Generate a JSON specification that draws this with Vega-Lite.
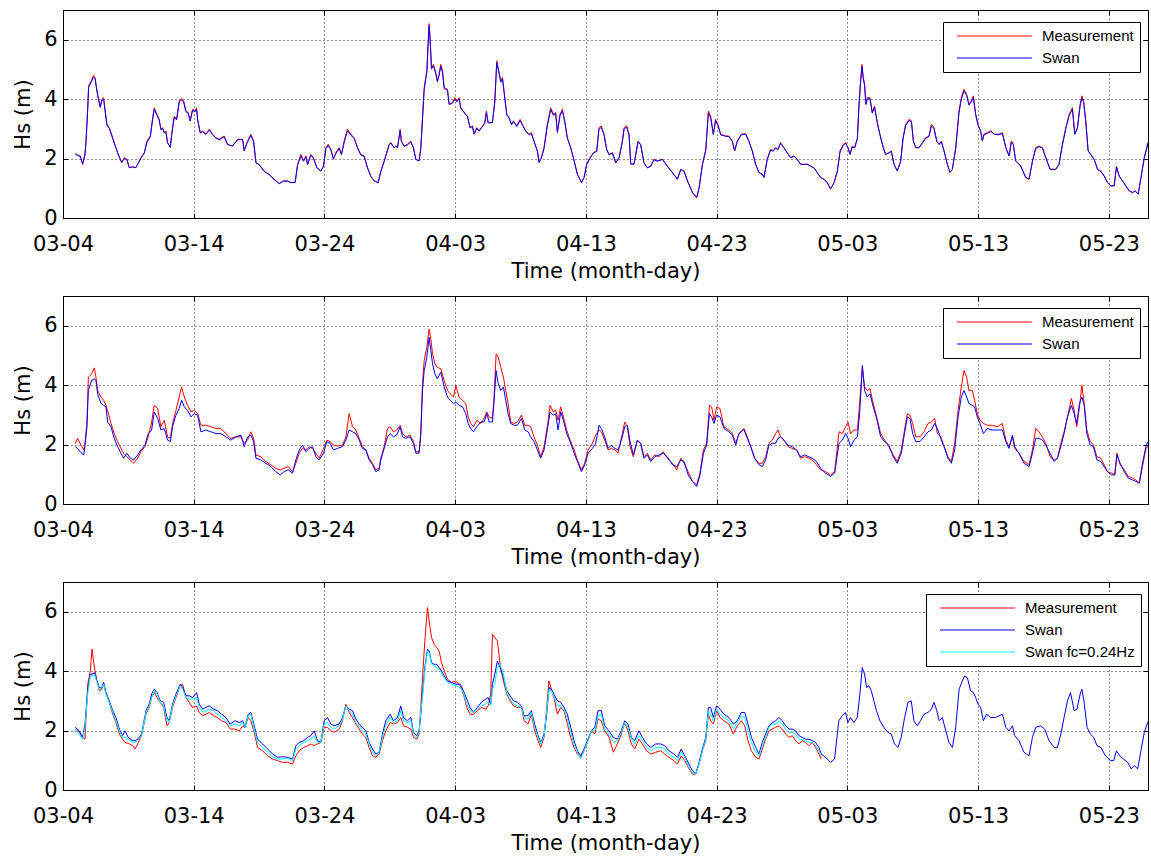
{
"$schema":"https://vega.github.io/schema/vega-lite/v6.json",
"background":"white",
"padding":{"left":12,"top":9,"right":0,"bottom":0},
"spacing":13,
"resolve":{"scale":{"color":"independent"},"legend":{"color":"independent"}},
"datasets":{
"p1":[{"d":0.94,"m":2.17,"s":2.15},{"d":1.12,"m":2.12,"s":2.10},{"d":1.33,"m":2.09,"s":2.07},{"d":1.50,"m":1.80,"s":1.82},{"d":1.68,"m":2.14,"s":2.12},{"d":1.76,"m":2.60,"s":2.55},{"d":1.89,"m":3.70,"s":3.65},{"d":1.96,"m":4.45,"s":4.40},{"d":2.14,"m":4.60,"s":4.56},{"d":2.34,"m":4.80,"s":4.74},{"d":2.45,"m":4.72,"s":4.68},{"d":2.65,"m":4.16,"s":4.12},{"d":2.85,"m":3.74,"s":3.72},{"d":2.98,"m":4.00,"s":3.96},{"d":3.11,"m":4.05,"s":4.00},{"d":3.21,"m":3.66,"s":3.64},{"d":3.36,"m":3.15,"s":3.12},{"d":3.54,"m":3.04,"s":3.02},{"d":3.80,"m":2.70,"s":2.68},{"d":4.05,"m":2.37,"s":2.35},{"d":4.23,"m":2.14,"s":2.13},{"d":4.49,"m":1.86,"s":1.87},{"d":4.69,"m":2.03,"s":2.00},{"d":4.89,"m":1.98,"s":1.96},{"d":5.07,"m":1.69,"s":1.70},{"d":5.33,"m":1.72,"s":1.72},{"d":5.58,"m":1.69,"s":1.70},{"d":5.76,"m":1.86,"s":1.84},{"d":5.96,"m":2.03,"s":2.01},{"d":6.22,"m":2.20,"s":2.18},{"d":6.42,"m":2.59,"s":2.55},{"d":6.68,"m":2.76,"s":2.73},{"d":6.86,"m":3.38,"s":3.33},{"d":6.98,"m":3.71,"s":3.66},{"d":7.19,"m":3.49,"s":3.45},{"d":7.36,"m":3.32,"s":3.30},{"d":7.49,"m":2.99,"s":2.97},{"d":7.62,"m":3.04,"s":3.01},{"d":7.75,"m":2.87,"s":2.86},{"d":7.87,"m":2.93,"s":2.90},{"d":8.00,"m":2.54,"s":2.53},{"d":8.21,"m":2.37,"s":2.38},{"d":8.31,"m":2.82,"s":2.78},{"d":8.51,"m":3.43,"s":3.39},{"d":8.69,"m":3.32,"s":3.30},{"d":8.89,"m":3.94,"s":3.89},{"d":9.07,"m":4.03,"s":3.98},{"d":9.23,"m":3.94,"s":3.90},{"d":9.40,"m":3.60,"s":3.58},{"d":9.58,"m":3.55,"s":3.52},{"d":9.73,"m":3.27,"s":3.26},{"d":9.91,"m":3.66,"s":3.62},{"d":10.09,"m":3.60,"s":3.57},{"d":10.22,"m":3.71,"s":3.66},{"d":10.30,"m":3.32,"s":3.30},{"d":10.50,"m":2.87,"s":2.86},{"d":10.68,"m":2.93,"s":2.90},{"d":10.93,"m":2.82,"s":2.81},{"d":11.19,"m":2.99,"s":2.96},{"d":11.44,"m":2.82,"s":2.80},{"d":11.70,"m":2.70,"s":2.69},{"d":11.95,"m":2.65,"s":2.63},{"d":12.33,"m":2.76,"s":2.73},{"d":12.59,"m":2.48,"s":2.47},{"d":12.97,"m":2.42,"s":2.42},{"d":13.35,"m":2.65,"s":2.63},{"d":13.74,"m":2.65,"s":2.64},{"d":13.86,"m":2.26,"s":2.27},{"d":14.07,"m":2.54,"s":2.51},{"d":14.37,"m":2.82,"s":2.78},{"d":14.58,"m":2.59,"s":2.57},{"d":14.76,"m":1.86,"s":1.86},{"d":15.01,"m":1.80,"s":1.79},{"d":15.39,"m":1.58,"s":1.57},{"d":15.77,"m":1.47,"s":1.46},{"d":16.16,"m":1.30,"s":1.29},{"d":16.54,"m":1.16,"s":1.16},{"d":16.87,"m":1.25,"s":1.24},{"d":17.18,"m":1.25,"s":1.24},{"d":17.43,"m":1.19,"s":1.19},{"d":17.76,"m":1.19,"s":1.20},{"d":17.94,"m":1.80,"s":1.77},{"d":18.20,"m":2.14,"s":2.10},{"d":18.40,"m":1.92,"s":1.91},{"d":18.58,"m":2.09,"s":2.06},{"d":18.71,"m":1.80,"s":1.80},{"d":18.96,"m":2.14,"s":2.11},{"d":19.16,"m":2.03,"s":2.01},{"d":19.42,"m":1.69,"s":1.69},{"d":19.72,"m":1.58,"s":1.58},{"d":19.93,"m":1.75,"s":1.73},{"d":20.11,"m":2.37,"s":2.33},{"d":20.29,"m":2.48,"s":2.44},{"d":20.49,"m":2.31,"s":2.29},{"d":20.69,"m":1.98,"s":1.98},{"d":20.87,"m":2.20,"s":2.17},{"d":21.13,"m":2.37,"s":2.34},{"d":21.30,"m":2.14,"s":2.13},{"d":21.51,"m":2.59,"s":2.55},{"d":21.76,"m":2.99,"s":2.94},{"d":22.02,"m":2.82,"s":2.79},{"d":22.27,"m":2.70,"s":2.67},{"d":22.53,"m":2.37,"s":2.36},{"d":22.78,"m":2.14,"s":2.12},{"d":23.04,"m":2.09,"s":2.07},{"d":23.29,"m":1.69,"s":1.69},{"d":23.55,"m":1.41,"s":1.40},{"d":23.80,"m":1.25,"s":1.25},{"d":24.11,"m":1.19,"s":1.19},{"d":24.31,"m":1.58,"s":1.56},{"d":24.57,"m":1.92,"s":1.90},{"d":24.95,"m":2.48,"s":2.46},{"d":25.08,"m":2.54,"s":2.52},{"d":25.33,"m":2.37,"s":2.36},{"d":25.46,"m":2.42,"s":2.41},{"d":25.59,"m":2.37,"s":2.36},{"d":25.79,"m":2.99,"s":2.93},{"d":25.89,"m":2.59,"s":2.57},{"d":26.09,"m":2.42,"s":2.41},{"d":26.35,"m":2.48,"s":2.46},{"d":26.60,"m":2.59,"s":2.56},{"d":26.81,"m":2.37,"s":2.36},{"d":26.99,"m":1.98,"s":1.97},{"d":27.24,"m":1.92,"s":1.92},{"d":27.37,"m":2.37,"s":2.33},{"d":27.50,"m":3.38,"s":3.32},{"d":27.63,"m":4.39,"s":4.32},{"d":27.83,"m":4.95,"s":4.90},{"d":27.94,"m":5.96,"s":5.90},{"d":28.01,"m":6.54,"s":6.48},{"d":28.08,"m":6.07,"s":6.02},{"d":28.19,"m":5.06,"s":5.02},{"d":28.34,"m":5.17,"s":5.12},{"d":28.52,"m":4.89,"s":4.85},{"d":28.64,"m":4.61,"s":4.58},{"d":28.77,"m":4.84,"s":4.80},{"d":28.90,"m":5.17,"s":5.11},{"d":29.03,"m":4.95,"s":4.91},{"d":29.16,"m":4.39,"s":4.36},{"d":29.41,"m":4.33,"s":4.30},{"d":29.54,"m":3.83,"s":3.82},{"d":29.79,"m":3.88,"s":3.86},{"d":29.97,"m":4.05,"s":4.00},{"d":30.12,"m":3.94,"s":3.91},{"d":30.30,"m":4.05,"s":4.01},{"d":30.43,"m":3.71,"s":3.69},{"d":30.63,"m":3.60,"s":3.58},{"d":30.81,"m":3.49,"s":3.47},{"d":30.94,"m":3.43,"s":3.41},{"d":31.14,"m":3.04,"s":3.03},{"d":31.32,"m":3.10,"s":3.08},{"d":31.45,"m":2.82,"s":2.82},{"d":31.65,"m":3.04,"s":3.02},{"d":31.83,"m":2.93,"s":2.92},{"d":32.09,"m":3.10,"s":3.08},{"d":32.26,"m":3.21,"s":3.18},{"d":32.39,"m":3.60,"s":3.55},{"d":32.52,"m":3.21,"s":3.20},{"d":32.85,"m":3.21,"s":3.21},{"d":33.03,"m":3.94,"s":3.88},{"d":33.18,"m":5.29,"s":5.22},{"d":33.29,"m":5.06,"s":5.01},{"d":33.49,"m":4.61,"s":4.57},{"d":33.62,"m":4.73,"s":4.68},{"d":33.80,"m":4.05,"s":4.02},{"d":33.95,"m":3.49,"s":3.47},{"d":34.13,"m":3.38,"s":3.36},{"d":34.31,"m":3.15,"s":3.14},{"d":34.46,"m":3.27,"s":3.25},{"d":34.71,"m":3.10,"s":3.08},{"d":34.97,"m":3.32,"s":3.28},{"d":35.14,"m":3.15,"s":3.13},{"d":35.40,"m":2.93,"s":2.92},{"d":35.65,"m":2.82,"s":2.80},{"d":35.83,"m":2.87,"s":2.85},{"d":36.03,"m":2.59,"s":2.58},{"d":36.29,"m":2.26,"s":2.25},{"d":36.42,"m":1.86,"s":1.87},{"d":36.59,"m":2.03,"s":2.01},{"d":36.80,"m":2.37,"s":2.34},{"d":37.05,"m":3.15,"s":3.10},{"d":37.31,"m":3.71,"s":3.65},{"d":37.51,"m":3.49,"s":3.46},{"d":37.69,"m":3.55,"s":3.51},{"d":37.82,"m":2.87,"s":2.88},{"d":38.02,"m":3.49,"s":3.44},{"d":38.20,"m":3.66,"s":3.61},{"d":38.38,"m":3.27,"s":3.25},{"d":38.58,"m":2.70,"s":2.69},{"d":38.84,"m":2.37,"s":2.36},{"d":39.10,"m":1.92,"s":1.92},{"d":39.35,"m":1.47,"s":1.47},{"d":39.66,"m":1.19,"s":1.20},{"d":39.86,"m":1.36,"s":1.36},{"d":40.06,"m":1.81,"s":1.80},{"d":40.32,"m":2.03,"s":2.01},{"d":40.57,"m":2.20,"s":2.18},{"d":40.83,"m":2.26,"s":2.24},{"d":41.00,"m":3.04,"s":2.99},{"d":41.18,"m":3.10,"s":3.05},{"d":41.39,"m":2.82,"s":2.80},{"d":41.59,"m":2.31,"s":2.30},{"d":41.77,"m":2.14,"s":2.13},{"d":42.03,"m":2.20,"s":2.19},{"d":42.28,"m":1.86,"s":1.86},{"d":42.54,"m":2.03,"s":2.02},{"d":42.79,"m":2.59,"s":2.56},{"d":42.92,"m":3.04,"s":2.99},{"d":43.12,"m":3.10,"s":3.06},{"d":43.30,"m":2.82,"s":2.80},{"d":43.43,"m":1.81,"s":1.82},{"d":43.68,"m":1.81,"s":1.81},{"d":43.99,"m":2.59,"s":2.55},{"d":44.19,"m":2.48,"s":2.46},{"d":44.44,"m":1.86,"s":1.86},{"d":44.70,"m":1.69,"s":1.69},{"d":44.96,"m":1.75,"s":1.74},{"d":45.21,"m":1.98,"s":1.96},{"d":45.47,"m":1.92,"s":1.91},{"d":45.85,"m":1.98,"s":1.97},{"d":46.23,"m":1.75,"s":1.74},{"d":46.62,"m":1.53,"s":1.53},{"d":47.00,"m":1.30,"s":1.31},{"d":47.26,"m":1.64,"s":1.63},{"d":47.51,"m":1.58,"s":1.57},{"d":47.77,"m":1.25,"s":1.25},{"d":48.15,"m":0.85,"s":0.86},{"d":48.48,"m":0.68,"s":0.70},{"d":48.66,"m":1.02,"s":1.01},{"d":48.91,"m":1.81,"s":1.78},{"d":49.17,"m":2.31,"s":2.27},{"d":49.37,"m":3.60,"s":3.53},{"d":49.54,"m":3.43,"s":3.39},{"d":49.75,"m":2.82,"s":2.81},{"d":49.92,"m":3.32,"s":3.27},{"d":50.10,"m":3.15,"s":3.12},{"d":50.31,"m":2.82,"s":2.80},{"d":50.69,"m":2.76,"s":2.75},{"d":50.94,"m":2.76,"s":2.74},{"d":51.20,"m":2.59,"s":2.58},{"d":51.38,"m":2.26,"s":2.26},{"d":51.58,"m":2.59,"s":2.57},{"d":51.89,"m":2.82,"s":2.80},{"d":52.22,"m":2.84,"s":2.82},{"d":52.47,"m":2.59,"s":2.58},{"d":52.73,"m":2.26,"s":2.25},{"d":52.98,"m":1.81,"s":1.81},{"d":53.24,"m":1.53,"s":1.53},{"d":53.49,"m":1.47,"s":1.47},{"d":53.62,"m":1.36,"s":1.37},{"d":53.87,"m":1.98,"s":1.96},{"d":54.13,"m":2.31,"s":2.29},{"d":54.33,"m":2.26,"s":2.25},{"d":54.51,"m":2.37,"s":2.35},{"d":54.69,"m":2.31,"s":2.30},{"d":54.89,"m":2.54,"s":2.51},{"d":55.15,"m":2.37,"s":2.36},{"d":55.40,"m":2.20,"s":2.19},{"d":55.66,"m":2.03,"s":2.03},{"d":55.91,"m":2.09,"s":2.08},{"d":56.17,"m":1.98,"s":1.97},{"d":56.42,"m":1.81,"s":1.81},{"d":56.68,"m":1.81,"s":1.80},{"d":56.93,"m":1.81,"s":1.81},{"d":57.19,"m":1.75,"s":1.74},{"d":57.44,"m":1.69,"s":1.69},{"d":57.70,"m":1.53,"s":1.53},{"d":57.96,"m":1.36,"s":1.36},{"d":58.21,"m":1.30,"s":1.30},{"d":58.47,"m":1.19,"s":1.19},{"d":58.72,"m":0.97,"s":0.98},{"d":58.98,"m":1.19,"s":1.18},{"d":59.23,"m":1.58,"s":1.55},{"d":59.44,"m":2.26,"s":2.22},{"d":59.69,"m":2.48,"s":2.45},{"d":59.87,"m":2.54,"s":2.51},{"d":60.05,"m":2.37,"s":2.36},{"d":60.20,"m":2.14,"s":2.14},{"d":60.38,"m":2.42,"s":2.39},{"d":60.56,"m":2.37,"s":2.36},{"d":60.77,"m":2.70,"s":2.67},{"d":60.89,"m":3.83,"s":3.77},{"d":61.01,"m":4.61,"s":4.54},{"d":61.12,"m":5.17,"s":5.10},{"d":61.22,"m":4.73,"s":4.69},{"d":61.32,"m":4.50,"s":4.46},{"d":61.42,"m":3.83,"s":3.82},{"d":61.52,"m":4.05,"s":4.01},{"d":61.73,"m":4.05,"s":4.01},{"d":61.91,"m":3.55,"s":3.53},{"d":62.08,"m":3.77,"s":3.73},{"d":62.29,"m":3.21,"s":3.20},{"d":62.49,"m":2.82,"s":2.81},{"d":62.75,"m":2.37,"s":2.36},{"d":62.93,"m":2.14,"s":2.14},{"d":63.18,"m":2.20,"s":2.19},{"d":63.36,"m":2.26,"s":2.24},{"d":63.57,"m":1.81,"s":1.81},{"d":63.82,"m":1.58,"s":1.58},{"d":64.08,"m":1.92,"s":1.90},{"d":64.26,"m":2.70,"s":2.66},{"d":64.46,"m":3.15,"s":3.11},{"d":64.72,"m":3.32,"s":3.28},{"d":64.90,"m":3.27,"s":3.25},{"d":65.05,"m":2.59,"s":2.59},{"d":65.23,"m":2.37,"s":2.37},{"d":65.48,"m":2.37,"s":2.36},{"d":65.74,"m":2.54,"s":2.52},{"d":65.99,"m":2.70,"s":2.68},{"d":66.25,"m":2.76,"s":2.74},{"d":66.43,"m":3.15,"s":3.10},{"d":66.63,"m":3.04,"s":3.01},{"d":66.84,"m":2.59,"s":2.58},{"d":67.02,"m":2.48,"s":2.47},{"d":67.19,"m":2.59,"s":2.57},{"d":67.40,"m":2.26,"s":2.25},{"d":67.65,"m":1.81,"s":1.81},{"d":67.85,"m":1.53,"s":1.54},{"d":68.03,"m":1.64,"s":1.63},{"d":68.29,"m":2.37,"s":2.33},{"d":68.54,"m":3.60,"s":3.54},{"d":68.72,"m":4.05,"s":3.99},{"d":68.92,"m":4.33,"s":4.28},{"d":69.13,"m":4.16,"s":4.12},{"d":69.30,"m":3.83,"s":3.80},{"d":69.48,"m":3.94,"s":3.90},{"d":69.64,"m":4.11,"s":4.05},{"d":69.82,"m":3.49,"s":3.47},{"d":69.99,"m":3.15,"s":3.14},{"d":70.20,"m":2.93,"s":2.92},{"d":70.33,"m":2.59,"s":2.60},{"d":70.45,"m":2.82,"s":2.80},{"d":70.71,"m":2.87,"s":2.85},{"d":70.97,"m":2.93,"s":2.91},{"d":71.27,"m":2.82,"s":2.81},{"d":71.61,"m":2.82,"s":2.80},{"d":71.86,"m":2.87,"s":2.85},{"d":72.12,"m":2.37,"s":2.37},{"d":72.37,"m":2.09,"s":2.09},{"d":72.55,"m":2.59,"s":2.56},{"d":72.70,"m":2.48,"s":2.47},{"d":72.88,"m":1.92,"s":1.92},{"d":73.26,"m":1.75,"s":1.75},{"d":73.64,"m":1.36,"s":1.37},{"d":73.90,"m":1.30,"s":1.31},{"d":74.16,"m":1.92,"s":1.90},{"d":74.41,"m":2.37,"s":2.34},{"d":74.66,"m":2.42,"s":2.40},{"d":74.92,"m":2.37,"s":2.36},{"d":75.18,"m":2.03,"s":2.03},{"d":75.51,"m":1.64,"s":1.64},{"d":75.94,"m":1.64,"s":1.63},{"d":76.19,"m":1.81,"s":1.80},{"d":76.45,"m":2.48,"s":2.45},{"d":76.71,"m":3.04,"s":3.00},{"d":76.97,"m":3.49,"s":3.45},{"d":77.22,"m":3.71,"s":3.66},{"d":77.40,"m":2.82,"s":2.82},{"d":77.60,"m":3.04,"s":3.01},{"d":77.81,"m":3.83,"s":3.78},{"d":77.94,"m":4.11,"s":4.04},{"d":78.07,"m":3.94,"s":3.90},{"d":78.24,"m":3.27,"s":3.25},{"d":78.42,"m":2.26,"s":2.26},{"d":78.63,"m":2.14,"s":2.13},{"d":78.88,"m":1.98,"s":1.97},{"d":79.14,"m":1.64,"s":1.64},{"d":79.39,"m":1.58,"s":1.57},{"d":79.65,"m":1.41,"s":1.41},{"d":79.90,"m":1.19,"s":1.19},{"d":80.16,"m":1.08,"s":1.08},{"d":80.41,"m":1.08,"s":1.09},{"d":80.59,"m":1.75,"s":1.71},{"d":80.80,"m":1.41,"s":1.40},{"d":81.05,"m":1.25,"s":1.25},{"d":81.31,"m":1.08,"s":1.08},{"d":81.56,"m":0.91,"s":0.92},{"d":81.82,"m":0.85,"s":0.86},{"d":82.02,"m":0.91,"s":0.91},{"d":82.25,"m":0.80,"s":0.81},{"d":82.46,"m":1.36,"s":1.34},{"d":82.71,"m":2.03,"s":2.00},{"d":83.00,"m":2.55,"s":2.52}],
"p2":[{"d":0.94,"m":2.04,"s":1.93},{"d":1.12,"m":2.21,"s":1.87},{"d":1.38,"m":1.98,"s":1.73},{"d":1.58,"m":1.82,"s":1.65},{"d":1.68,"m":2.04,"s":1.93},{"d":1.83,"m":2.71,"s":2.60},{"d":1.94,"m":4.27,"s":3.82},{"d":2.19,"m":4.38,"s":4.16},{"d":2.40,"m":4.58,"s":4.21},{"d":2.52,"m":4.27,"s":4.16},{"d":2.65,"m":3.82,"s":3.71},{"d":2.91,"m":3.60,"s":3.38},{"d":3.11,"m":3.49,"s":3.32},{"d":3.29,"m":3.32,"s":3.27},{"d":3.41,"m":3.15,"s":2.76},{"d":3.67,"m":2.71,"s":2.60},{"d":3.92,"m":2.37,"s":2.21},{"d":4.18,"m":2.10,"s":1.93},{"d":4.43,"m":1.87,"s":1.71},{"d":4.64,"m":1.71,"s":1.54},{"d":4.89,"m":1.59,"s":1.71},{"d":5.15,"m":1.48,"s":1.54},{"d":5.40,"m":1.37,"s":1.48},{"d":5.71,"m":1.54,"s":1.65},{"d":5.96,"m":1.76,"s":1.82},{"d":6.27,"m":1.93,"s":1.98},{"d":6.52,"m":2.26,"s":2.37},{"d":6.78,"m":2.76,"s":2.49},{"d":6.98,"m":3.32,"s":3.10},{"d":7.24,"m":3.21,"s":2.88},{"d":7.49,"m":2.60,"s":2.49},{"d":7.75,"m":2.82,"s":2.54},{"d":8.00,"m":2.26,"s":2.15},{"d":8.21,"m":2.21,"s":2.10},{"d":8.38,"m":2.71,"s":2.60},{"d":8.64,"m":3.15,"s":2.99},{"d":8.89,"m":3.60,"s":3.21},{"d":9.07,"m":3.94,"s":3.49},{"d":9.28,"m":3.60,"s":3.27},{"d":9.53,"m":3.32,"s":3.15},{"d":9.79,"m":3.10,"s":2.93},{"d":10.04,"m":3.15,"s":3.04},{"d":10.30,"m":3.04,"s":2.99},{"d":10.55,"m":2.65,"s":2.43},{"d":10.93,"m":2.65,"s":2.49},{"d":11.31,"m":2.60,"s":2.43},{"d":11.70,"m":2.54,"s":2.37},{"d":12.08,"m":2.54,"s":2.37},{"d":12.46,"m":2.37,"s":2.26},{"d":12.84,"m":2.21,"s":2.15},{"d":13.23,"m":2.26,"s":2.26},{"d":13.61,"m":2.26,"s":2.32},{"d":13.86,"m":2.04,"s":1.93},{"d":14.12,"m":2.15,"s":2.26},{"d":14.37,"m":2.43,"s":2.32},{"d":14.58,"m":2.21,"s":2.10},{"d":14.76,"m":1.65,"s":1.54},{"d":15.14,"m":1.59,"s":1.48},{"d":15.52,"m":1.43,"s":1.37},{"d":15.90,"m":1.32,"s":1.26},{"d":16.28,"m":1.20,"s":1.09},{"d":16.62,"m":1.15,"s":0.98},{"d":16.92,"m":1.20,"s":1.09},{"d":17.23,"m":1.26,"s":1.15},{"d":17.56,"m":1.09,"s":1.04},{"d":17.81,"m":1.37,"s":1.48},{"d":18.07,"m":1.71,"s":1.82},{"d":18.32,"m":1.87,"s":1.98},{"d":18.58,"m":1.82,"s":1.76},{"d":18.83,"m":1.93,"s":1.87},{"d":19.09,"m":1.87,"s":1.93},{"d":19.34,"m":1.71,"s":1.59},{"d":19.60,"m":1.54,"s":1.48},{"d":19.93,"m":1.87,"s":1.71},{"d":20.18,"m":2.15,"s":2.10},{"d":20.44,"m":2.10,"s":2.04},{"d":20.69,"m":1.98,"s":1.82},{"d":21.00,"m":1.95,"s":1.87},{"d":21.38,"m":1.98,"s":1.93},{"d":21.64,"m":2.26,"s":2.15},{"d":21.89,"m":3.04,"s":2.49},{"d":22.15,"m":2.60,"s":2.43},{"d":22.40,"m":2.49,"s":2.37},{"d":22.66,"m":2.21,"s":2.15},{"d":22.91,"m":1.93,"s":1.87},{"d":23.17,"m":1.82,"s":1.82},{"d":23.42,"m":1.54,"s":1.48},{"d":23.68,"m":1.37,"s":1.32},{"d":23.93,"m":1.15,"s":1.09},{"d":24.18,"m":1.20,"s":1.15},{"d":24.31,"m":1.54,"s":1.48},{"d":24.57,"m":1.93,"s":1.87},{"d":24.82,"m":2.54,"s":2.26},{"d":25.02,"m":2.60,"s":2.37},{"d":25.28,"m":2.43,"s":2.26},{"d":25.53,"m":2.49,"s":2.32},{"d":25.79,"m":2.65,"s":2.60},{"d":25.97,"m":2.37,"s":2.26},{"d":26.22,"m":2.26,"s":2.21},{"d":26.55,"m":2.32,"s":2.26},{"d":26.81,"m":2.10,"s":2.04},{"d":26.99,"m":1.76,"s":1.71},{"d":27.24,"m":1.76,"s":1.71},{"d":27.37,"m":2.30,"s":2.40},{"d":27.50,"m":4.05,"s":3.82},{"d":27.63,"m":4.83,"s":4.49},{"d":27.83,"m":5.27,"s":4.94},{"d":28.01,"m":5.89,"s":5.61},{"d":28.14,"m":5.55,"s":5.16},{"d":28.27,"m":5.05,"s":4.72},{"d":28.45,"m":4.72,"s":4.38},{"d":28.64,"m":4.60,"s":4.21},{"d":28.90,"m":4.55,"s":4.44},{"d":29.16,"m":4.16,"s":3.94},{"d":29.41,"m":3.82,"s":3.60},{"d":29.62,"m":3.71,"s":3.49},{"d":29.87,"m":3.60,"s":3.38},{"d":30.05,"m":3.99,"s":3.43},{"d":30.30,"m":3.60,"s":3.32},{"d":30.56,"m":3.49,"s":3.27},{"d":30.81,"m":3.38,"s":3.04},{"d":30.99,"m":2.93,"s":2.71},{"d":31.19,"m":2.71,"s":2.54},{"d":31.40,"m":2.60,"s":2.43},{"d":31.65,"m":2.82,"s":2.60},{"d":31.96,"m":2.71,"s":2.76},{"d":32.21,"m":2.88,"s":2.76},{"d":32.42,"m":3.10,"s":3.04},{"d":32.60,"m":2.93,"s":2.76},{"d":32.85,"m":2.88,"s":2.76},{"d":32.98,"m":3.60,"s":3.49},{"d":33.13,"m":5.05,"s":4.49},{"d":33.29,"m":4.94,"s":4.05},{"d":33.49,"m":4.60,"s":3.82},{"d":33.69,"m":4.27,"s":3.94},{"d":33.87,"m":3.82,"s":3.49},{"d":34.05,"m":3.38,"s":3.04},{"d":34.25,"m":2.76,"s":2.71},{"d":34.51,"m":2.71,"s":2.65},{"d":34.76,"m":2.76,"s":2.65},{"d":35.07,"m":2.99,"s":2.88},{"d":35.32,"m":2.65,"s":2.49},{"d":35.58,"m":2.65,"s":2.43},{"d":35.78,"m":2.60,"s":2.26},{"d":36.03,"m":2.26,"s":2.10},{"d":36.29,"m":1.98,"s":1.82},{"d":36.54,"m":1.59,"s":1.54},{"d":36.80,"m":1.93,"s":1.82},{"d":37.05,"m":2.60,"s":2.49},{"d":37.26,"m":3.32,"s":3.10},{"d":37.51,"m":3.10,"s":2.99},{"d":37.69,"m":3.15,"s":3.04},{"d":37.87,"m":2.82,"s":2.49},{"d":38.07,"m":3.27,"s":3.10},{"d":38.28,"m":2.93,"s":2.82},{"d":38.53,"m":2.49,"s":2.37},{"d":38.79,"m":2.15,"s":2.10},{"d":39.10,"m":1.82,"s":1.71},{"d":39.35,"m":1.48,"s":1.43},{"d":39.66,"m":1.15,"s":1.09},{"d":39.91,"m":1.37,"s":1.32},{"d":40.17,"m":1.82,"s":1.71},{"d":40.50,"m":2.04,"s":1.87},{"d":40.75,"m":2.32,"s":2.04},{"d":41.01,"m":2.49,"s":2.65},{"d":41.18,"m":2.43,"s":2.54},{"d":41.44,"m":2.15,"s":2.26},{"d":41.70,"m":1.82,"s":1.87},{"d":41.95,"m":1.87,"s":1.98},{"d":42.21,"m":1.82,"s":1.87},{"d":42.46,"m":1.71,"s":1.82},{"d":42.79,"m":2.37,"s":2.26},{"d":42.97,"m":2.76,"s":2.60},{"d":43.17,"m":2.60,"s":2.65},{"d":43.38,"m":1.93,"s":2.10},{"d":43.63,"m":1.59,"s":1.65},{"d":43.94,"m":2.15,"s":2.15},{"d":44.19,"m":2.04,"s":2.04},{"d":44.44,"m":1.59,"s":1.54},{"d":44.70,"m":1.71,"s":1.65},{"d":44.96,"m":1.48,"s":1.43},{"d":45.26,"m":1.65,"s":1.59},{"d":45.59,"m":1.59,"s":1.65},{"d":45.92,"m":1.76,"s":1.71},{"d":46.23,"m":1.54,"s":1.59},{"d":46.62,"m":1.37,"s":1.32},{"d":46.95,"m":1.15,"s":1.26},{"d":47.26,"m":1.54,"s":1.48},{"d":47.51,"m":1.37,"s":1.43},{"d":47.82,"m":1.09,"s":0.98},{"d":48.15,"m":0.76,"s":0.76},{"d":48.48,"m":0.65,"s":0.59},{"d":48.73,"m":1.04,"s":0.98},{"d":48.99,"m":1.82,"s":1.71},{"d":49.24,"m":2.04,"s":1.98},{"d":49.45,"m":3.32,"s":3.04},{"d":49.62,"m":3.27,"s":2.93},{"d":49.80,"m":2.82,"s":2.71},{"d":50.00,"m":3.27,"s":2.99},{"d":50.26,"m":3.21,"s":2.93},{"d":50.56,"m":2.60,"s":2.54},{"d":50.94,"m":2.49,"s":2.43},{"d":51.20,"m":2.37,"s":2.32},{"d":51.46,"m":2.04,"s":1.98},{"d":51.71,"m":2.37,"s":2.37},{"d":52.09,"m":2.54,"s":2.51},{"d":52.35,"m":2.26,"s":2.21},{"d":52.61,"m":1.93,"s":1.93},{"d":52.91,"m":1.54,"s":1.54},{"d":53.24,"m":1.37,"s":1.32},{"d":53.49,"m":1.37,"s":1.26},{"d":53.75,"m":1.59,"s":1.48},{"d":54.00,"m":2.04,"s":1.98},{"d":54.26,"m":2.15,"s":2.04},{"d":54.51,"m":2.37,"s":2.04},{"d":54.69,"m":2.49,"s":2.21},{"d":54.89,"m":2.26,"s":2.26},{"d":55.15,"m":2.15,"s":2.15},{"d":55.46,"m":1.93,"s":1.98},{"d":55.78,"m":1.87,"s":1.93},{"d":56.11,"m":1.82,"s":1.82},{"d":56.42,"m":1.54,"s":1.59},{"d":56.73,"m":1.59,"s":1.65},{"d":57.06,"m":1.54,"s":1.59},{"d":57.31,"m":1.48,"s":1.54},{"d":57.64,"m":1.32,"s":1.43},{"d":57.96,"m":1.15,"s":1.20},{"d":58.33,"m":1.09,"s":1.04},{"d":58.72,"m":0.98,"s":0.93},{"d":59.03,"m":1.09,"s":1.04},{"d":59.36,"m":2.43,"s":2.04},{"d":59.62,"m":2.37,"s":2.15},{"d":59.87,"m":2.60,"s":2.37},{"d":60.05,"m":2.76,"s":2.21},{"d":60.25,"m":2.37,"s":1.93},{"d":60.51,"m":2.49,"s":2.15},{"d":60.77,"m":2.49,"s":2.26},{"d":60.94,"m":3.38,"s":3.04},{"d":61.15,"m":4.60,"s":4.66},{"d":61.32,"m":3.94,"s":3.82},{"d":61.52,"m":3.82,"s":3.60},{"d":61.73,"m":3.88,"s":3.71},{"d":61.98,"m":3.38,"s":3.27},{"d":62.24,"m":2.93,"s":2.88},{"d":62.55,"m":2.37,"s":2.26},{"d":62.85,"m":2.15,"s":2.10},{"d":63.18,"m":1.93,"s":1.98},{"d":63.51,"m":1.65,"s":1.59},{"d":63.82,"m":1.43,"s":1.37},{"d":64.13,"m":1.82,"s":1.71},{"d":64.33,"m":2.37,"s":2.26},{"d":64.59,"m":3.04,"s":2.93},{"d":64.79,"m":2.99,"s":2.88},{"d":65.00,"m":2.71,"s":2.37},{"d":65.23,"m":2.26,"s":2.10},{"d":65.56,"m":2.26,"s":2.10},{"d":65.87,"m":2.43,"s":2.26},{"d":66.17,"m":2.71,"s":2.43},{"d":66.43,"m":2.76,"s":2.49},{"d":66.68,"m":2.88,"s":2.71},{"d":66.89,"m":2.37,"s":2.54},{"d":67.14,"m":2.26,"s":2.21},{"d":67.40,"m":1.93,"s":1.93},{"d":67.70,"m":1.59,"s":1.54},{"d":67.96,"m":1.43,"s":1.37},{"d":68.21,"m":2.04,"s":1.82},{"d":68.47,"m":3.15,"s":2.93},{"d":68.72,"m":3.94,"s":3.60},{"d":68.92,"m":4.49,"s":3.82},{"d":69.13,"m":4.27,"s":3.60},{"d":69.30,"m":3.82,"s":3.38},{"d":69.56,"m":3.82,"s":3.32},{"d":69.74,"m":3.49,"s":3.27},{"d":69.94,"m":3.04,"s":2.93},{"d":70.15,"m":2.82,"s":2.71},{"d":70.41,"m":2.71,"s":2.37},{"d":70.71,"m":2.65,"s":2.54},{"d":71.09,"m":2.65,"s":2.49},{"d":71.46,"m":2.60,"s":2.49},{"d":71.86,"m":2.71,"s":2.49},{"d":72.12,"m":2.15,"s":2.10},{"d":72.37,"m":1.93,"s":1.87},{"d":72.63,"m":2.26,"s":2.32},{"d":72.80,"m":1.87,"s":1.93},{"d":73.13,"m":1.71,"s":1.71},{"d":73.51,"m":1.43,"s":1.37},{"d":73.90,"m":1.32,"s":1.26},{"d":74.16,"m":1.82,"s":1.71},{"d":74.41,"m":2.54,"s":2.21},{"d":74.66,"m":2.43,"s":2.21},{"d":74.92,"m":2.26,"s":2.15},{"d":75.18,"m":2.04,"s":1.98},{"d":75.51,"m":1.59,"s":1.71},{"d":75.82,"m":1.48,"s":1.43},{"d":76.07,"m":1.54,"s":1.54},{"d":76.33,"m":2.04,"s":1.93},{"d":76.58,"m":2.43,"s":2.37},{"d":76.84,"m":2.93,"s":2.93},{"d":77.14,"m":3.55,"s":3.32},{"d":77.35,"m":3.15,"s":3.04},{"d":77.55,"m":2.60,"s":2.71},{"d":77.76,"m":3.27,"s":3.38},{"d":77.94,"m":3.99,"s":3.60},{"d":78.12,"m":3.38,"s":3.32},{"d":78.32,"m":2.49,"s":2.37},{"d":78.58,"m":2.10,"s":1.98},{"d":78.83,"m":1.98,"s":1.93},{"d":79.09,"m":1.59,"s":1.48},{"d":79.39,"m":1.54,"s":1.43},{"d":79.65,"m":1.32,"s":1.26},{"d":79.90,"m":1.09,"s":1.09},{"d":80.21,"m":1.04,"s":0.98},{"d":80.46,"m":0.98,"s":0.98},{"d":80.62,"m":1.71,"s":1.65},{"d":80.87,"m":1.32,"s":1.37},{"d":81.18,"m":1.15,"s":1.09},{"d":81.49,"m":0.93,"s":0.87},{"d":81.82,"m":0.87,"s":0.81},{"d":82.07,"m":0.81,"s":0.76},{"d":82.33,"m":0.70,"s":0.70},{"d":82.58,"m":1.26,"s":1.37},{"d":82.84,"m":1.87,"s":1.93},{"d":83.00,"m":1.93,"s":2.10}],
"p3":[{"d":0.94,"m":2.05,"s":2.11,"f":2.05},{"d":1.25,"m":1.94,"s":1.99,"f":1.88},{"d":1.50,"m":1.77,"s":1.77,"f":1.71},{"d":1.68,"m":1.71,"s":2.22,"f":2.11},{"d":1.89,"m":3.56,"s":3.34,"f":3.23},{"d":2.09,"m":4.01,"s":3.90,"f":3.84},{"d":2.22,"m":4.74,"s":3.90,"f":3.84},{"d":2.40,"m":4.12,"s":3.95,"f":3.90},{"d":2.60,"m":3.67,"s":3.67,"f":3.62},{"d":2.78,"m":3.34,"s":3.45,"f":3.39},{"d":2.96,"m":3.39,"s":3.45,"f":3.45},{"d":3.11,"m":3.56,"s":3.62,"f":3.56},{"d":3.29,"m":3.23,"s":3.28,"f":3.23},{"d":3.54,"m":2.95,"s":3.00,"f":2.95},{"d":3.80,"m":2.55,"s":2.67,"f":2.61},{"d":4.05,"m":2.27,"s":2.44,"f":2.33},{"d":4.31,"m":1.88,"s":2.05,"f":1.99},{"d":4.56,"m":1.71,"s":1.83,"f":1.77},{"d":4.74,"m":1.60,"s":1.99,"f":1.77},{"d":4.99,"m":1.57,"s":1.77,"f":1.71},{"d":5.33,"m":1.49,"s":1.66,"f":1.60},{"d":5.50,"m":1.38,"s":1.66,"f":1.60},{"d":5.71,"m":1.55,"s":1.71,"f":1.66},{"d":6.01,"m":1.83,"s":1.88,"f":1.83},{"d":6.35,"m":2.55,"s":2.67,"f":2.61},{"d":6.60,"m":2.78,"s":2.89,"f":2.83},{"d":6.78,"m":3.11,"s":3.23,"f":3.11},{"d":6.98,"m":3.28,"s":3.39,"f":3.34},{"d":7.19,"m":3.11,"s":3.28,"f":3.23},{"d":7.44,"m":2.95,"s":3.00,"f":2.95},{"d":7.70,"m":2.78,"s":2.95,"f":2.83},{"d":7.95,"m":2.16,"s":2.44,"f":2.33},{"d":8.13,"m":2.27,"s":2.33,"f":2.27},{"d":8.38,"m":2.78,"s":2.89,"f":2.83},{"d":8.64,"m":3.11,"s":3.23,"f":3.17},{"d":8.97,"m":3.51,"s":3.56,"f":3.51},{"d":9.15,"m":3.56,"s":3.45,"f":3.39},{"d":9.40,"m":3.11,"s":3.17,"f":3.11},{"d":9.66,"m":2.95,"s":3.17,"f":3.06},{"d":9.91,"m":2.78,"s":3.11,"f":3.06},{"d":10.22,"m":2.83,"s":3.28,"f":3.11},{"d":10.42,"m":2.61,"s":2.89,"f":2.78},{"d":10.68,"m":2.50,"s":2.72,"f":2.61},{"d":10.93,"m":2.55,"s":2.78,"f":2.67},{"d":11.19,"m":2.61,"s":2.83,"f":2.72},{"d":11.52,"m":2.50,"s":2.72,"f":2.67},{"d":11.82,"m":2.44,"s":2.67,"f":2.55},{"d":12.13,"m":2.33,"s":2.55,"f":2.44},{"d":12.46,"m":2.27,"s":2.44,"f":2.33},{"d":12.79,"m":2.05,"s":2.22,"f":2.16},{"d":13.15,"m":2.05,"s":2.33,"f":2.22},{"d":13.48,"m":1.99,"s":2.27,"f":2.16},{"d":13.74,"m":2.16,"s":2.33,"f":2.27},{"d":13.91,"m":2.11,"s":2.11,"f":2.11},{"d":14.17,"m":2.44,"s":2.55,"f":2.50},{"d":14.37,"m":2.33,"s":2.61,"f":2.55},{"d":14.63,"m":1.94,"s":2.16,"f":2.05},{"d":14.88,"m":1.43,"s":1.71,"f":1.60},{"d":15.27,"m":1.32,"s":1.55,"f":1.43},{"d":15.65,"m":1.15,"s":1.38,"f":1.27},{"d":16.03,"m":1.04,"s":1.21,"f":1.12},{"d":16.41,"m":0.99,"s":1.10,"f":1.04},{"d":16.79,"m":0.93,"s":1.12,"f":1.04},{"d":17.18,"m":0.93,"s":1.10,"f":1.06},{"d":17.56,"m":0.87,"s":1.04,"f":0.99},{"d":17.81,"m":1.15,"s":1.49,"f":1.38},{"d":18.07,"m":1.32,"s":1.60,"f":1.49},{"d":18.40,"m":1.43,"s":1.66,"f":1.60},{"d":18.71,"m":1.49,"s":1.77,"f":1.66},{"d":18.96,"m":1.55,"s":1.83,"f":1.71},{"d":19.22,"m":1.49,"s":1.99,"f":1.83},{"d":19.47,"m":1.55,"s":1.66,"f":1.60},{"d":19.72,"m":1.60,"s":1.60,"f":1.60},{"d":19.98,"m":2.11,"s":2.33,"f":2.22},{"d":20.23,"m":2.11,"s":2.44,"f":2.27},{"d":20.49,"m":1.99,"s":2.22,"f":2.11},{"d":20.74,"m":1.94,"s":2.16,"f":2.05},{"d":21.13,"m":2.05,"s":2.22,"f":2.16},{"d":21.38,"m":2.33,"s":2.44,"f":2.39},{"d":21.64,"m":2.89,"s":2.83,"f":2.83},{"d":21.89,"m":2.61,"s":2.72,"f":2.67},{"d":22.15,"m":2.44,"s":2.67,"f":2.55},{"d":22.40,"m":2.22,"s":2.39,"f":2.27},{"d":22.66,"m":2.05,"s":2.22,"f":2.16},{"d":22.91,"m":1.88,"s":2.11,"f":1.99},{"d":23.17,"m":1.77,"s":1.99,"f":1.88},{"d":23.42,"m":1.43,"s":1.60,"f":1.55},{"d":23.68,"m":1.15,"s":1.38,"f":1.27},{"d":23.93,"m":1.10,"s":1.21,"f":1.15},{"d":24.18,"m":1.21,"s":1.27,"f":1.27},{"d":24.44,"m":1.66,"s":1.88,"f":1.77},{"d":24.69,"m":1.99,"s":2.33,"f":2.16},{"d":25.02,"m":2.27,"s":2.55,"f":2.44},{"d":25.28,"m":2.22,"s":2.33,"f":2.27},{"d":25.59,"m":2.27,"s":2.44,"f":2.33},{"d":25.84,"m":2.44,"s":2.83,"f":2.67},{"d":26.05,"m":2.16,"s":2.44,"f":2.33},{"d":26.35,"m":2.11,"s":2.33,"f":2.27},{"d":26.61,"m":2.05,"s":2.44,"f":2.33},{"d":26.81,"m":1.77,"s":1.94,"f":1.88},{"d":27.06,"m":1.71,"s":1.83,"f":1.77},{"d":27.24,"m":1.88,"s":1.99,"f":1.94},{"d":27.37,"m":2.78,"s":2.55,"f":2.67},{"d":27.50,"m":3.78,"s":3.23,"f":3.11},{"d":27.68,"m":5.02,"s":4.12,"f":4.01},{"d":27.88,"m":6.14,"s":4.74,"f":4.68},{"d":28.01,"m":5.69,"s":4.68,"f":4.62},{"d":28.19,"m":5.13,"s":4.29,"f":4.23},{"d":28.39,"m":4.90,"s":4.23,"f":4.18},{"d":28.59,"m":4.79,"s":4.23,"f":4.12},{"d":28.77,"m":4.68,"s":4.12,"f":4.06},{"d":28.95,"m":4.29,"s":4.01,"f":3.95},{"d":29.16,"m":4.01,"s":3.84,"f":3.78},{"d":29.41,"m":3.73,"s":3.67,"f":3.62},{"d":29.72,"m":3.62,"s":3.62,"f":3.56},{"d":30.05,"m":3.67,"s":3.56,"f":3.51},{"d":30.38,"m":3.51,"s":3.56,"f":3.45},{"d":30.63,"m":3.23,"s":3.34,"f":3.28},{"d":30.89,"m":2.78,"s":3.06,"f":2.89},{"d":31.14,"m":2.55,"s":2.78,"f":2.67},{"d":31.40,"m":2.55,"s":2.61,"f":2.61},{"d":31.70,"m":2.67,"s":2.78,"f":2.72},{"d":32.01,"m":2.78,"s":2.95,"f":2.83},{"d":32.34,"m":2.72,"s":3.06,"f":2.89},{"d":32.52,"m":2.83,"s":3.11,"f":2.95},{"d":32.72,"m":3.23,"s":2.89,"f":2.83},{"d":32.85,"m":5.24,"s":3.56,"f":3.39},{"d":33.03,"m":5.13,"s":3.90,"f":3.56},{"d":33.23,"m":5.02,"s":4.34,"f":4.12},{"d":33.44,"m":4.23,"s":4.12,"f":4.23},{"d":33.69,"m":3.67,"s":3.78,"f":3.90},{"d":33.95,"m":3.23,"s":3.34,"f":3.28},{"d":34.20,"m":3.00,"s":3.17,"f":3.06},{"d":34.46,"m":2.83,"s":3.00,"f":2.89},{"d":34.76,"m":2.78,"s":2.95,"f":2.83},{"d":35.07,"m":2.78,"s":2.83,"f":2.78},{"d":35.27,"m":2.33,"s":2.50,"f":2.44},{"d":35.58,"m":2.22,"s":2.50,"f":2.39},{"d":35.83,"m":2.55,"s":2.67,"f":2.61},{"d":36.08,"m":1.99,"s":2.22,"f":2.11},{"d":36.34,"m":1.66,"s":1.83,"f":1.77},{"d":36.54,"m":1.43,"s":1.60,"f":1.55},{"d":36.80,"m":1.77,"s":1.88,"f":1.83},{"d":37.00,"m":2.78,"s":2.55,"f":2.67},{"d":37.18,"m":3.67,"s":3.45,"f":3.39},{"d":37.36,"m":3.39,"s":3.39,"f":3.34},{"d":37.56,"m":3.11,"s":3.23,"f":3.17},{"d":37.82,"m":2.55,"s":3.00,"f":2.83},{"d":38.07,"m":2.78,"s":2.95,"f":2.83},{"d":38.33,"m":2.67,"s":2.78,"f":2.72},{"d":38.58,"m":2.22,"s":2.55,"f":2.39},{"d":38.84,"m":1.77,"s":2.11,"f":1.94},{"d":39.09,"m":1.43,"s":1.66,"f":1.55},{"d":39.35,"m":1.21,"s":1.32,"f":1.27},{"d":39.60,"m":1.10,"s":1.15,"f":1.04},{"d":39.86,"m":1.32,"s":1.38,"f":1.32},{"d":40.16,"m":1.66,"s":1.71,"f":1.66},{"d":40.42,"m":1.99,"s":1.99,"f":1.99},{"d":40.68,"m":1.88,"s":2.11,"f":1.99},{"d":40.93,"m":2.39,"s":2.67,"f":2.50},{"d":41.18,"m":2.33,"s":2.67,"f":2.55},{"d":41.44,"m":1.99,"s":2.16,"f":2.05},{"d":41.77,"m":1.77,"s":1.99,"f":1.88},{"d":42.10,"m":1.27,"s":1.77,"f":1.60},{"d":42.41,"m":1.55,"s":1.71,"f":1.66},{"d":42.71,"m":1.88,"s":1.99,"f":1.94},{"d":42.97,"m":2.27,"s":2.33,"f":2.27},{"d":43.22,"m":1.99,"s":2.22,"f":2.11},{"d":43.48,"m":1.55,"s":1.77,"f":1.71},{"d":43.73,"m":1.38,"s":1.66,"f":1.55},{"d":44.06,"m":1.71,"s":1.99,"f":1.83},{"d":44.32,"m":1.55,"s":1.77,"f":1.66},{"d":44.65,"m":1.32,"s":1.55,"f":1.43},{"d":44.96,"m":1.21,"s":1.43,"f":1.32},{"d":45.34,"m":1.27,"s":1.55,"f":1.43},{"d":45.72,"m":1.32,"s":1.55,"f":1.43},{"d":46.03,"m":1.21,"s":1.49,"f":1.38},{"d":46.36,"m":1.10,"s":1.32,"f":1.21},{"d":46.74,"m":0.99,"s":1.21,"f":1.10},{"d":47.00,"m":0.87,"s":1.10,"f":0.99},{"d":47.30,"m":1.15,"s":1.38,"f":1.27},{"d":47.56,"m":0.99,"s":1.15,"f":1.10},{"d":47.89,"m":0.71,"s":0.87,"f":0.76},{"d":48.14,"m":0.54,"s":0.65,"f":0.59},{"d":48.40,"m":0.54,"s":0.54,"f":0.54},{"d":48.66,"m":0.87,"s":0.93,"f":0.87},{"d":48.91,"m":1.32,"s":1.38,"f":1.32},{"d":49.17,"m":1.66,"s":1.77,"f":1.71},{"d":49.37,"m":2.55,"s":2.78,"f":2.67},{"d":49.54,"m":2.33,"s":2.78,"f":2.55},{"d":49.75,"m":2.22,"s":2.44,"f":2.33},{"d":50.00,"m":2.67,"s":2.83,"f":2.72},{"d":50.26,"m":2.44,"s":2.72,"f":2.55},{"d":50.56,"m":2.33,"s":2.55,"f":2.44},{"d":50.94,"m":2.22,"s":2.44,"f":2.33},{"d":51.28,"m":1.88,"s":2.22,"f":2.05},{"d":51.58,"m":2.16,"s":2.33,"f":2.27},{"d":51.89,"m":2.33,"s":2.61,"f":2.50},{"d":52.15,"m":2.16,"s":2.61,"f":2.44},{"d":52.40,"m":1.66,"s":2.22,"f":1.99},{"d":52.66,"m":1.32,"s":1.77,"f":1.60},{"d":52.99,"m":1.10,"s":1.43,"f":1.27},{"d":53.24,"m":1.04,"s":1.21,"f":1.15},{"d":53.49,"m":1.38,"s":1.60,"f":1.49},{"d":53.75,"m":1.71,"s":1.88,"f":1.77},{"d":54.00,"m":1.99,"s":2.16,"f":2.11},{"d":54.26,"m":2.05,"s":2.27,"f":2.22},{"d":54.51,"m":2.11,"s":2.33,"f":2.22},{"d":54.77,"m":2.16,"s":2.44,"f":2.33},{"d":55.02,"m":2.05,"s":2.33,"f":2.22},{"d":55.28,"m":1.88,"s":2.16,"f":2.05},{"d":55.54,"m":1.77,"s":2.05,"f":1.94},{"d":55.79,"m":1.83,"s":2.05,"f":1.94},{"d":56.04,"m":1.66,"s":1.99,"f":1.88},{"d":56.30,"m":1.55,"s":1.83,"f":1.71},{"d":56.56,"m":1.66,"s":1.77,"f":1.71},{"d":56.81,"m":1.60,"s":1.71,"f":1.66},{"d":57.06,"m":1.49,"s":1.71,"f":1.60},{"d":57.32,"m":1.60,"s":1.66,"f":1.60},{"d":57.57,"m":1.43,"s":1.60,"f":1.49},{"d":57.83,"m":1.21,"s":1.43,"f":1.32},{"d":58.00,"m":1.04,"s":1.21,"f":1.15},{"d":58.34,"s":1.10},{"d":58.72,"s":0.93},{"d":59.02,"s":1.04},{"d":59.35,"s":2.33},{"d":59.61,"s":2.50},{"d":59.86,"s":2.61},{"d":60.04,"s":2.27},{"d":60.24,"s":2.44},{"d":60.50,"s":2.27},{"d":60.76,"s":2.44},{"d":60.96,"s":3.23},{"d":61.14,"s":4.12},{"d":61.32,"s":3.90},{"d":61.47,"s":3.45},{"d":61.65,"s":3.51},{"d":61.83,"s":3.34},{"d":62.03,"s":3.00},{"d":62.23,"s":2.67},{"d":62.49,"s":2.33},{"d":62.79,"s":2.11},{"d":63.10,"s":1.94},{"d":63.36,"s":1.88},{"d":63.61,"s":1.55},{"d":63.87,"s":1.43},{"d":64.12,"s":1.77},{"d":64.38,"s":2.44},{"d":64.64,"s":2.95},{"d":64.89,"s":3.00},{"d":65.09,"s":2.33},{"d":65.35,"s":2.16},{"d":65.60,"s":2.33},{"d":65.86,"s":2.55},{"d":66.17,"s":2.61},{"d":66.43,"s":2.72},{"d":66.63,"s":2.95},{"d":66.84,"s":2.67},{"d":67.02,"s":2.33},{"d":67.27,"s":2.44},{"d":67.53,"s":1.99},{"d":67.78,"s":1.60},{"d":68.04,"s":1.43},{"d":68.29,"s":2.11},{"d":68.55,"s":3.39},{"d":68.80,"s":3.67},{"d":68.97,"s":3.84},{"d":69.18,"s":3.78},{"d":69.43,"s":3.34},{"d":69.64,"s":3.28},{"d":69.82,"s":3.11},{"d":69.99,"s":2.89},{"d":70.20,"s":2.78},{"d":70.40,"s":2.33},{"d":70.65,"s":2.55},{"d":70.97,"s":2.44},{"d":71.33,"s":2.44},{"d":71.86,"s":2.55},{"d":72.12,"s":2.11},{"d":72.37,"s":1.99},{"d":72.63,"s":2.16},{"d":72.80,"s":1.83},{"d":73.13,"s":1.66},{"d":73.51,"s":1.27},{"d":73.90,"s":1.15},{"d":74.16,"s":1.77},{"d":74.41,"s":2.11},{"d":74.79,"s":2.16},{"d":75.10,"s":2.05},{"d":75.43,"s":1.66},{"d":75.82,"s":1.43},{"d":76.07,"s":1.43},{"d":76.33,"s":1.88},{"d":76.58,"s":2.44},{"d":76.84,"s":3.00},{"d":77.07,"s":3.28},{"d":77.35,"s":2.67},{"d":77.57,"s":2.72},{"d":77.81,"s":3.23},{"d":77.94,"s":3.39},{"d":78.10,"s":3.00},{"d":78.34,"s":2.11},{"d":78.60,"s":1.88},{"d":78.85,"s":1.77},{"d":79.10,"s":1.49},{"d":79.41,"s":1.43},{"d":79.74,"s":1.15},{"d":80.12,"s":0.99},{"d":80.38,"s":0.99},{"d":80.58,"s":1.32},{"d":80.84,"s":1.15},{"d":81.14,"s":1.04},{"d":81.45,"s":0.93},{"d":81.71,"s":0.71},{"d":81.96,"s":0.82},{"d":82.21,"s":0.71},{"d":82.46,"s":1.32},{"d":82.72,"s":1.94},{"d":83.00,"s":2.30}]
},
"vconcat":[
{"width":1085,"height":208,"data":{"name":"p1"},
 "layer":[
  {"transform":[{"fold":["m","s"],"as":["k","v"]},{"filter":"isValid(datum.v)"}],
   "mark":{"type":"line","strokeWidth":1,"clip":true},
   "encoding":{
    "x":{"field":"d","type":"quantitative","scale":{"domain":[0,83],"nice":false,"zero":false},"axis":{"orient":"bottom","values":[0,10,20,30,40,50,60,70,80],"labelExpr":"timeFormat(datetime(2010,2,4+datum.value),'%m-%d')","title":"Time (month-day)","grid":true,"labelFlush":false,"labelPadding":20,"titlePadding":6}},
    "y":{"field":"v","type":"quantitative","scale":{"domain":[0,7],"nice":false},"axis":{"orient":"left","values":[0,2,4,6],"title":"Hs (m)","grid":true,"labelPadding":11,"titlePadding":10}},
    "color":{"field":"k","type":"nominal","scale":{"domain":["m","s"],"range":["#ff0000","#0000ff"]},"legend":{"orient":"none","legendX":880,"legendY":12,"labelExpr":"datum.label == 'm' ? 'Measurement' : 'Swan'"}}}},
  {"mark":{"type":"point","opacity":0},
   "encoding":{
    "x":{"field":"d","type":"quantitative","scale":{"domain":[0,83],"nice":false,"zero":false},"axis":{"orient":"top","values":[0,10,20,30,40,50,60,70,80],"labels":false,"title":null,"grid":false}},
    "y":{"field":"s","type":"quantitative","scale":{"domain":[0,7],"nice":false},"axis":{"orient":"right","values":[0,2,4,6],"labels":false,"title":null,"grid":false}}}}
 ],
 "resolve":{"axis":{"x":"independent","y":"independent"}}},
{"width":1085,"height":208,"data":{"name":"p2"},
 "layer":[
  {"transform":[{"fold":["m","s"],"as":["k","v"]},{"filter":"isValid(datum.v)"}],
   "mark":{"type":"line","strokeWidth":1,"clip":true},
   "encoding":{
    "x":{"field":"d","type":"quantitative","scale":{"domain":[0,83],"nice":false,"zero":false},"axis":{"orient":"bottom","values":[0,10,20,30,40,50,60,70,80],"labelExpr":"timeFormat(datetime(2010,2,4+datum.value),'%m-%d')","title":"Time (month-day)","grid":true,"labelFlush":false,"labelPadding":20,"titlePadding":6}},
    "y":{"field":"v","type":"quantitative","scale":{"domain":[0,7],"nice":false},"axis":{"orient":"left","values":[0,2,4,6],"title":"Hs (m)","grid":true,"labelPadding":11,"titlePadding":10}},
    "color":{"field":"k","type":"nominal","scale":{"domain":["m","s"],"range":["#ff0000","#0000ff"]},"legend":{"orient":"none","legendX":880,"legendY":12,"labelExpr":"datum.label == 'm' ? 'Measurement' : 'Swan'"}}}},
  {"mark":{"type":"point","opacity":0},
   "encoding":{
    "x":{"field":"d","type":"quantitative","scale":{"domain":[0,83],"nice":false,"zero":false},"axis":{"orient":"top","values":[0,10,20,30,40,50,60,70,80],"labels":false,"title":null,"grid":false}},
    "y":{"field":"s","type":"quantitative","scale":{"domain":[0,7],"nice":false},"axis":{"orient":"right","values":[0,2,4,6],"labels":false,"title":null,"grid":false}}}}
 ],
 "resolve":{"axis":{"x":"independent","y":"independent"}}},
{"width":1085,"height":208,"data":{"name":"p3"},
 "layer":[
  {"transform":[{"fold":["m","s","f"],"as":["k","v"]},{"filter":"isValid(datum.v)"}],
   "mark":{"type":"line","strokeWidth":1,"clip":true},
   "encoding":{
    "x":{"field":"d","type":"quantitative","scale":{"domain":[0,83],"nice":false,"zero":false},"axis":{"orient":"bottom","values":[0,10,20,30,40,50,60,70,80],"labelExpr":"timeFormat(datetime(2010,2,4+datum.value),'%m-%d')","title":"Time (month-day)","grid":true,"labelFlush":false,"labelPadding":20,"titlePadding":6}},
    "y":{"field":"v","type":"quantitative","scale":{"domain":[0,7],"nice":false},"axis":{"orient":"left","values":[0,2,4,6],"title":"Hs (m)","grid":true,"labelPadding":11,"titlePadding":10}},
    "color":{"field":"k","type":"nominal","scale":{"domain":["m","s","f"],"range":["#ff0000","#0000ff","#00ffff"]},"legend":{"orient":"none","legendX":863,"legendY":12,"labelExpr":"datum.label == 'm' ? 'Measurement' : datum.label == 's' ? 'Swan' : 'Swan fc=0.24Hz'"}}}},
  {"mark":{"type":"point","opacity":0},
   "encoding":{
    "x":{"field":"d","type":"quantitative","scale":{"domain":[0,83],"nice":false,"zero":false},"axis":{"orient":"top","values":[0,10,20,30,40,50,60,70,80],"labels":false,"title":null,"grid":false}},
    "y":{"field":"s","type":"quantitative","scale":{"domain":[0,7],"nice":false},"axis":{"orient":"right","values":[0,2,4,6],"labels":false,"title":null,"grid":false}}}}
 ],
 "resolve":{"axis":{"x":"independent","y":"independent"}}}
],
"config":{
 "view":{"stroke":"#000000","strokeWidth":1},
 "axis":{"domainColor":"#000000","domainWidth":1,"tickColor":"#000000","tickSize":-5,"tickWidth":1,"labelColor":"#000000","titleColor":"#000000","labelFont":"DejaVu Sans","titleFont":"DejaVu Sans","labelFontSize":21,"titleFontSize":21,"titleFontWeight":"normal","gridColor":"#000000","gridDash":[1,3],"gridOpacity":0.85,"gridWidth":1},
 "legend":{"title":null,"fillColor":"#ffffff","strokeColor":"#000000","padding":6,"symbolType":"M-5,0H5","symbolSize":225,"symbolStrokeWidth":1,"symbolOffset":37.5,"labelOffset":39.5,"labelFont":"Liberation Sans","labelFontSize":15,"labelColor":"#000000","rowPadding":6}
}
}
